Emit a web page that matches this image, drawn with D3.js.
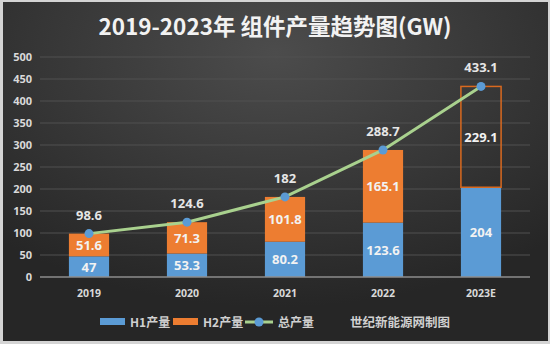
<!DOCTYPE html>
<html>
<head>
<meta charset="utf-8">
<script src="https://cdn.jsdelivr.net/npm/d3@7"></script>
<style>
  html, body { margin: 0; padding: 0; background: #fff; }
  svg text { font-family: "Open Sans", "Noto Sans CJK SC", sans-serif; }
</style>
</head>
<body>
<div id="chart"></div>
<script>
// chart data
var years = ["2019", "2020", "2021", "2022", "2023E"];
var h1 = [47, 53.3, 80.2, 123.6, 204];
var h2 = [51.6, 71.3, 101.8, 165.1, 229.1];
var total = [98.6, 124.6, 182, 288.7, 433.1];
var yTicks = [0, 50, 100, 150, 200, 250, 300, 350, 400, 450, 500];

var width = 550, height = 344;
var margin = {left: 40, right: 20, top: 57, bottom: 67};

var svg = d3.select("#chart").append("svg")
  .attr("width", width)
  .attr("height", height);

var defs = svg.append("defs");
var grad = defs.append("radialGradient")
  .attr("id", "bg")
  .attr("cx", "50%").attr("cy", "15%").attr("r", "75%");
grad.append("stop").attr("offset", "0%").attr("stop-color", "#4c4c4c");
grad.append("stop").attr("offset", "100%").attr("stop-color", "#262626");

// frame + background
svg.append("rect").attr("width", width).attr("height", height).attr("fill", "#d4d4d4");
svg.append("rect")
  .attr("x", 3).attr("y", 2)
  .attr("width", width - 5).attr("height", height - 5)
  .attr("fill", "url(#bg)");

var x = d3.scaleBand()
  .domain(years)
  .range([margin.left, width - margin.right])
  .paddingInner(0.59)
  .paddingOuter(0.295);

var y = d3.scaleLinear()
  .domain([0, 500])
  .range([height - margin.bottom, margin.top]);

// title
svg.append("text")
  .attr("x", 275)
  .attr("y", 35)
  .attr("text-anchor", "middle")
  .attr("fill", "#f2f2f2")
  .style("font-size", "22.5px")
  .style("font-weight", "bold")
  .style("font-family", "'Noto Sans CJK SC', sans-serif")
  .text("2019-2023年 组件产量趋势图(GW)");

// gridlines
svg.append("g")
  .selectAll("line")
  .data(yTicks.slice(1))
  .enter().append("line")
  .attr("x1", margin.left)
  .attr("x2", width - margin.right)
  .attr("y1", function (d) { return y(d); })
  .attr("y2", function (d) { return y(d); })
  .attr("stroke", "#505050")
  .attr("stroke-width", 1);

// y axis labels
var yAxis = d3.axisLeft(y).tickValues(yTicks).tickSize(0).tickPadding(8);
var yg = svg.append("g")
  .attr("transform", "translate(" + margin.left + ",0)")
  .call(yAxis);
yg.select(".domain").remove();
yg.selectAll("text")
  .attr("fill", "#d9d9d9")
  .style("font-size", "11px")
  .style("font-weight", "bold");

// bars: H1
var bw = x.bandwidth();
svg.append("g")
  .selectAll("rect")
  .data(years)
  .enter().append("rect")
  .attr("x", function (d) { return x(d); })
  .attr("width", bw)
  .attr("y", function (d, i) { return y(h1[i]); })
  .attr("height", function (d, i) { return y(0) - y(h1[i]); })
  .attr("fill", "#5b9bd5");

// bars: H2 (2023E outlined only)
svg.append("g")
  .selectAll("rect")
  .data(years)
  .enter().append("rect")
  .attr("x", function (d) { return x(d); })
  .attr("width", bw)
  .attr("y", function (d, i) { return y(h1[i] + h2[i]); })
  .attr("height", function (d, i) { return y(h1[i]) - y(h1[i] + h2[i]); })
  .attr("fill", function (d, i) { return i === years.length - 1 ? "none" : "#ed7d31"; })
  .attr("stroke", function (d, i) { return i === years.length - 1 ? "#d9691f" : "none"; })
  .attr("stroke-width", 1.5);

// baseline
svg.append("line")
  .attr("x1", margin.left)
  .attr("x2", width - margin.right)
  .attr("y1", y(0))
  .attr("y2", y(0))
  .attr("stroke", "#8c8c8c")
  .attr("stroke-width", 1.5);

// x labels
svg.append("g")
  .selectAll("text")
  .data(years)
  .enter().append("text")
  .attr("x", function (d) { return x(d) + bw / 2; })
  .attr("y", y(0) + 20)
  .attr("text-anchor", "middle")
  .attr("fill", "#d9d9d9")
  .style("font-size", "10.5px")
  .style("font-weight", "bold")
  .text(function (d) { return d; });

// in-bar labels
function addBarLabels(vals, base) {
  svg.append("g")
    .selectAll("text")
    .data(years)
    .enter().append("text")
    .attr("x", function (d) { return x(d) + bw / 2; })
    .attr("y", function (d, i) {
      var b = base ? base[i] : 0;
      return y(b + vals[i] / 2) + 5;
    })
    .attr("text-anchor", "middle")
    .attr("fill", "#f2f2f2")
    .style("font-size", "13px")
    .style("font-weight", "bold")
    .text(function (d, i) { return vals[i]; });
}
addBarLabels(h1, null);
addBarLabels(h2, h1);

// total line
var cx = function (d, i) { return x(years[i]) + bw / 2; };
var line = d3.line()
  .x(cx)
  .y(function (d) { return y(d); });

svg.append("path")
  .datum(total)
  .attr("d", line)
  .attr("fill", "none")
  .attr("stroke", "#a9d18e")
  .attr("stroke-width", 3);

svg.append("g")
  .selectAll("circle")
  .data(total)
  .enter().append("circle")
  .attr("cx", cx)
  .attr("cy", function (d) { return y(d); })
  .attr("r", 4.5)
  .attr("fill", "#5b9bd5");

svg.append("g")
  .selectAll("text")
  .data(total)
  .enter().append("text")
  .attr("x", cx)
  .attr("y", function (d) { return y(d) - 14; })
  .attr("text-anchor", "middle")
  .attr("fill", "#e6e6e6")
  .style("font-size", "13px")
  .style("font-weight", "bold")
  .text(function (d) { return d; });

// legend
var lg = svg.append("g").attr("transform", "translate(0,322)");
lg.append("rect").attr("x", 100).attr("y", -4).attr("width", 25).attr("height", 7).attr("fill", "#5b9bd5");
lg.append("rect").attr("x", 173).attr("y", -4).attr("width", 25).attr("height", 7).attr("fill", "#ed7d31");
lg.append("line").attr("x1", 245).attr("x2", 273).attr("y1", 0).attr("y2", 0)
  .attr("stroke", "#a9d18e").attr("stroke-width", 3);
lg.append("circle").attr("cx", 259).attr("cy", 0).attr("r", 4.5).attr("fill", "#5b9bd5");

var legendItems = [
  {x: 130, t: "H1产量", s: 12},
  {x: 203, t: "H2产量", s: 12},
  {x: 278, t: "总产量", s: 12},
  {x: 350, t: "世纪新能源网制图", s: 12.5}
];
lg.selectAll("text.leg")
  .data(legendItems)
  .enter().append("text")
  .attr("class", "leg")
  .attr("x", function (d) { return d.x; })
  .attr("y", 4.5)
  .attr("fill", "#d0d0d0")
  .style("font-size", function (d) { return d.s + "px"; })
  .style("font-weight", "bold")
  .style("font-family", "'Noto Sans CJK SC', sans-serif")
  .text(function (d) { return d.t; });
</script>
</body>
</html>
